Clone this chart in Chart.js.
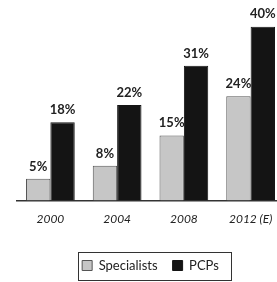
<!DOCTYPE html>
<html>
<head>
<meta charset="utf-8">
<script src="https://cdn.jsdelivr.net/npm/chart.js@4/dist/chart.umd.min.js"></script>
<style>
  html, body { margin: 0; padding: 0; background: #fff; overflow: hidden; }
  #wrap { width: 284px; height: 282px; }
</style>
</head>
<body>
<div id="wrap"><canvas id="chart" width="284" height="282"></canvas></div>
<script>
// Data
const years = ['2000', '2004', '2008', '2012 (E)'];
const specialists = [5, 8, 15, 24];
const pcps = [18, 22, 31, 40];

// Value labels above bars
const barLabels = {
    id: 'barLabels',
    afterDatasetsDraw(chart) {
        const ctx = chart.ctx;
        ctx.save();
        ctx.font = 'bold 13px Lato, sans-serif';
        ctx.fillStyle = '#222';
        ctx.textAlign = 'center';
        ctx.textBaseline = 'bottom';
        chart.data.datasets.forEach((ds, i) => {
            chart.getDatasetMeta(i).data.forEach((bar, j) => {
                ctx.fillText(ds.data[j] + '%', bar.x, bar.y - 6);
            });
        });
        ctx.restore();
    }
};

// Frame round the legend items
const legendFrame = {
    id: 'legendFrame',
    afterDraw(chart) {
        const boxes = chart.legend.legendHitBoxes;
        if (!boxes || !boxes.length) return;
        const first = boxes[0];
        const last = boxes[boxes.length - 1];
        const ctx = chart.ctx;
        ctx.save();
        ctx.strokeStyle = '#333';
        ctx.lineWidth = 1;
        const x0 = Math.round(first.left - 4) + 0.5;
        const x1 = Math.round(last.left + last.width + 12) + 0.5;
        const y0 = Math.round(first.top - 7) + 0.5;
        ctx.strokeRect(x0, y0, x1 - x0, 28);
        ctx.restore();
    }
};

new Chart(document.getElementById('chart'), {
    type: 'bar',
    data: {
        labels: years,
        datasets: [
            {
                label: 'Specialists',
                data: specialists,
                backgroundColor: '#c6c6c6',
                borderColor: '#555',
                borderWidth: 1,
                barPercentage: 1,
                categoryPercentage: 0.73
            },
            {
                label: 'PCPs',
                data: pcps,
                backgroundColor: '#141414',
                borderColor: '#141414',
                borderWidth: 1,
                barPercentage: 1,
                categoryPercentage: 0.73
            }
        ]
    },
    options: {
        responsive: false,
        animation: false,
        layout: { padding: { left: 17, top: 5, right: 0, bottom: 0 } },
        plugins: {
            legend: {
                position: 'bottom',
                labels: {
                    boxWidth: 10,
                    boxHeight: 10,
                    padding: 15,
                    color: '#222',
                    font: { family: 'Lato, sans-serif', size: 13 }
                }
            },
            tooltip: { enabled: false }
        },
        scales: {
            x: {
                grid: { display: false },
                border: { display: true, color: '#333', width: 1.5 },
                afterFit(scale) { scale.height += 15; },
                ticks: {
                    padding: 3,
                    color: '#222',
                    font: { family: 'Lato, sans-serif', size: 12, style: 'italic' }
                }
            },
            y: {
                display: false,
                min: 0,
                max: 45
            }
        }
    },
    plugins: [barLabels, legendFrame]
});
</script>
</body>
</html>
